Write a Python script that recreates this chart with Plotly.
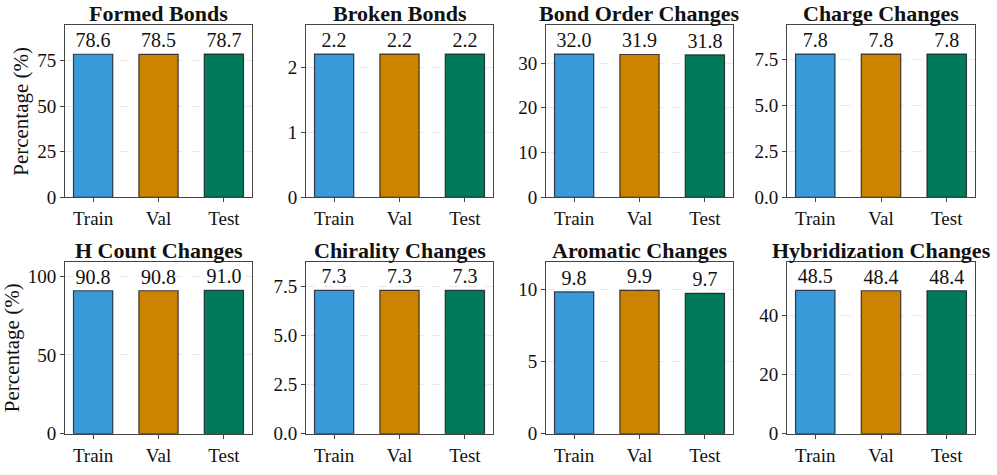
import plotly.graph_objects as go

splits = ["Train", "Val", "Test"]
titles = ["Formed Bonds", "Broken Bonds", "Bond Order Changes", "Charge Changes",
          "H Count Changes", "Chirality Changes", "Aromatic Changes", "Hybridization Changes"]
formed = [78.6, 78.5, 78.7]
broken = [2.2, 2.2, 2.2]
bond_order = [32.0, 31.9, 31.8]
charge = [7.8, 7.8, 7.8]
h_count = [90.8, 90.8, 91.0]
chirality = [7.3, 7.3, 7.3]
aromatic = [9.8, 9.9, 9.7]
hybrid = [48.5, 48.4, 48.4]
series = [formed, broken, bond_order, charge, h_count, chirality, aromatic, hybrid]
tick_sets = [[0, 25, 50, 75], [0, 1, 2], [0, 10, 20, 30], [0.0, 2.5, 5.0, 7.5],
             [0, 50, 100], [0.0, 2.5, 5.0, 7.5], [0, 5, 10], [0, 20, 40]]
tick_fmt = [None, None, None, ".1f", None, ".1f", None, None]
colors = ["#3A9AD9", "#CC8400", "#007A5A"]

W, H = 997, 475
col_x = [(65, 252), (306, 493), (546, 733), (787, 975)]
row_y = [(26, 202), (268, 444)]
font = "Liberation Serif, Times New Roman, serif"

fig = go.Figure()
layout = {}
for i, vals in enumerate(series):
    r, c = divmod(i, 4)
    n = i + 1
    xa = "x" if n == 1 else f"x{n}"
    ya = "y" if n == 1 else f"y{n}"
    fig.add_trace(go.Bar(
        x=splits, y=vals, xaxis=xa, yaxis=ya, width=0.6,
        marker=dict(color=colors, line=dict(color="rgba(20,20,30,0.8)", width=1.2)),
        text=[f"{v:.1f}" for v in vals], textposition="outside",
        textfont=dict(family=font, size=20, color="#111"),
        cliponaxis=False, showlegend=False, hoverinfo="skip"))
    x0, x1 = col_x[c]
    y0, y1 = row_y[r]
    xk = "xaxis" if n == 1 else f"xaxis{n}"
    yk = "yaxis" if n == 1 else f"yaxis{n}"
    layout[xk] = dict(domain=[x0 / W, x1 / W], anchor=ya, range=[-0.43, 2.43],
                      showline=True, mirror=True, linecolor="#444", linewidth=1,
                      ticks="outside", ticklen=4, tickcolor="#444",
                      tickfont=dict(family=font, size=19, color="#111"), showgrid=False)
    ydict = dict(domain=[1 - y1 / H, 1 - y0 / H], anchor=xa, range=[0, max(vals) * 1.2],
                 showline=True, mirror=True, linecolor="#444", linewidth=1,
                 ticks="outside", ticklen=4, tickcolor="#444",
                 tickvals=tick_sets[i],
                 tickfont=dict(family=font, size=19, color="#111"),
                 showgrid=True, gridcolor="#e8e8e8", griddash="dash", gridwidth=0.8,
                 zeroline=False)
    if tick_fmt[i]:
        ydict["tickformat"] = tick_fmt[i]
    if c == 0:
        ydict["title"] = dict(text="Percentage (%)", font=dict(family=font, size=21, color="#111"),
                              standoff=2)
    layout[yk] = ydict
    fig.add_annotation(text=f"<b>{titles[i]}</b>", xref="paper", yref="paper",
                       x=(x0 + x1) / 2 / W, y=1 - (y0 - 12) / H, yanchor="middle", xanchor="center",
                       showarrow=False,
                       font=dict(family=font, size=22, color="#111"))

fig.update_layout(width=W, height=H, margin=dict(l=0, r=0, t=0, b=0),
                  paper_bgcolor="white", plot_bgcolor="white", **layout)
fig.write_html("out.html", config={"displayModeBar": False},
               post_script="document.body.style.margin='0';document.body.style.overflow='hidden';")
